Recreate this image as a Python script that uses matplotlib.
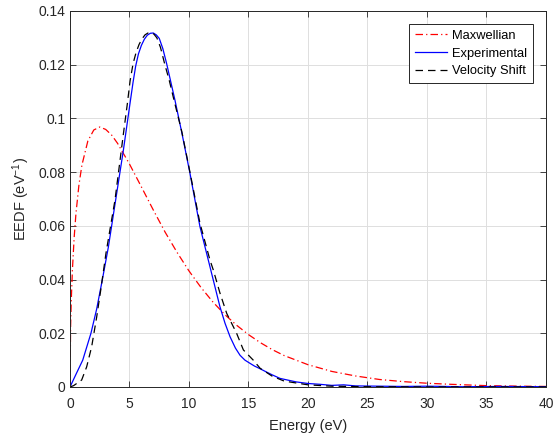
import numpy as np
import matplotlib.pyplot as plt

plt.rcParams['font.family'] = ['Liberation Sans', 'DejaVu Sans']
plt.rcParams['mathtext.default'] = 'regular'

# Maxwellian
e_max = [0, 0.05, 0.1, 0.2, 0.35, 0.5, 0.75, 1, 1.5, 2, 2.5, 3, 3.5, 4, 5, 6, 7, 8, 9, 10,
         11, 12, 13, 14, 15, 16, 17, 18, 20, 22, 24, 26, 28, 30, 32, 35, 38, 40]
f_max = [0, 0.0223, 0.0313, 0.0434, 0.0557, 0.0646, 0.0752, 0.0826, 0.0916, 0.0957, 0.0968,
         0.0959, 0.0938, 0.0907, 0.0830, 0.0745, 0.0659, 0.0576, 0.0501, 0.0432, 0.0371,
         0.0317, 0.0270, 0.0230, 0.0195, 0.0165, 0.0139, 0.0117, 0.0083, 0.0058, 0.0041,
         0.0028, 0.0020, 0.0014, 0.0010, 0.0005, 0.0003, 0.0002]

# experimental
e_exp = [0, 0.5, 1.07, 1.76, 2.24, 2.72, 3.22, 3.78, 4.48, 5.04, 5.3, 5.52, 5.75, 6.0, 6.25,
         6.5, 6.75, 7.0, 7.25, 7.5, 7.8, 8.12, 8.45, 8.82, 9.4, 10.08, 10.92, 11.76, 12.6,
         13.03, 13.45, 13.9, 14.29, 14.7, 15.13, 15.5, 15.97, 16.5, 17.0, 17.65, 19, 20, 21,
         22, 23, 24, 26, 28, 30, 33, 36, 40]
f_exp = [0, 0.0047, 0.0100, 0.0200, 0.0290, 0.0400, 0.0520, 0.0680, 0.0880, 0.1055, 0.1135,
         0.1195, 0.1240, 0.1272, 0.1295, 0.1310, 0.1317, 0.1318, 0.1311, 0.1298, 0.1260,
         0.1204, 0.1140, 0.1068, 0.0946, 0.0796, 0.0597, 0.0448, 0.0299, 0.0237, 0.0187,
         0.0145, 0.0118, 0.0100, 0.0088, 0.0078, 0.0068, 0.0056, 0.0045, 0.0032, 0.0019,
         0.0013, 0.0010, 0.0006, 0.0008, 0.0004, 0.0003, 0.0002, 0.0003, 0.0001, 0.0002,
         0.0001]

# velocity shift
e_vs = [0, 0.3, 0.98, 1.4, 1.82, 2.24, 2.58, 3.03, 3.78, 4.48, 4.82, 5.05, 5.3, 5.55, 5.8,
        6.05, 6.3, 6.55, 6.8, 7.05, 7.3, 7.6, 7.95, 8.35, 8.74, 9.4, 10.08, 10.92, 11.76,
        12.04, 12.6, 13.17, 14.0, 14.57, 15.4, 15.97, 17, 18, 20, 22, 25, 30, 35, 40]
f_vs = [0, 0.0005, 0.0026, 0.0075, 0.0150, 0.0260, 0.0360, 0.0500, 0.0696, 0.0940, 0.1055,
        0.1140, 0.1204, 0.1245, 0.1275, 0.1296, 0.1311, 0.1318, 0.1320, 0.1314, 0.1300,
        0.1265, 0.1204, 0.1140, 0.1068, 0.0950, 0.0800, 0.0610, 0.0473, 0.0436, 0.0350,
        0.0274, 0.0200, 0.0138, 0.0100, 0.0070, 0.0040, 0.0022, 0.0008, 0.0003, 0.0001,
        0, 0, 0]

xticks = [0, 5, 10, 15, 20, 25, 30, 35, 40]
yticks = [0, 0.02, 0.04, 0.06, 0.08, 0.1, 0.12, 0.14]
ylabels = ['0', '0.02', '0.04', '0.06', '0.08', '0.1', '0.12', '0.14']

dark = '#262626'
fig = plt.figure(figsize=(5.56, 4.36), dpi=100)
ax = fig.add_axes([0.1259, 0.1124, 0.8561, 0.8624])

ax.plot(e_max, f_max, color='red', lw=0.9, dashes=(6, 2.5, 1, 2.5), label='Maxwellian')
ax.plot(e_exp, f_exp, color='blue', lw=0.9, label='Experimental')
ax.plot(e_vs, f_vs, color='black', lw=0.9, dashes=(6, 4), label='Velocity Shift')

ax.set_xlim(0, 40)
ax.set_ylim(0, 0.14)
ax.set_xticks(xticks)
ax.set_yticks(yticks)
ax.set_yticklabels(ylabels)
ax.grid(True, color='#dedede', lw=0.7)
ax.set_axisbelow(True)
ax.tick_params(direction='in', top=True, right=True, length=4, width=0.6,
               colors=dark, labelsize=10)
ax.tick_params(axis='x', pad=7)
for s in ax.spines.values():
    s.set_color(dark)
    s.set_linewidth(0.7)

ax.set_xlabel('Energy (eV)', fontsize=10.5, color=dark, labelpad=6)
ax.set_ylabel('EEDF (eV$^{-1}$)', fontsize=10.5, color=dark)

leg = ax.legend(loc='upper right', fontsize=9.3, fancybox=False, framealpha=1,
                edgecolor=dark, handlelength=2.5, borderaxespad=1.0,
                labelspacing=0.45, handletextpad=0.4, borderpad=0.45)
leg.get_frame().set_linewidth(0.7)

plt.savefig('out.png', dpi=100)
